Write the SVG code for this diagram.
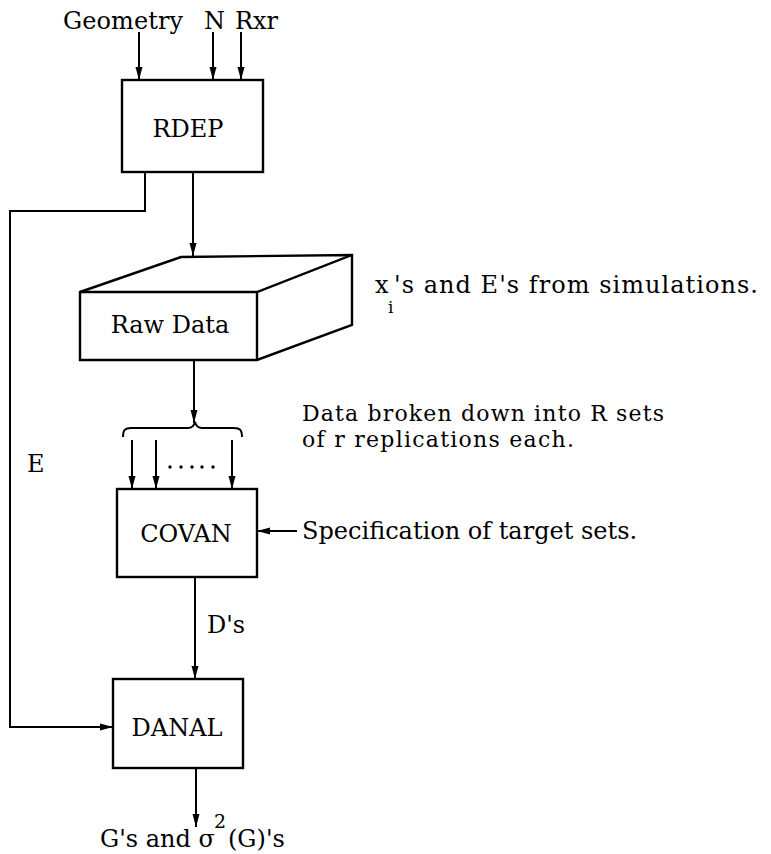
<svg xmlns="http://www.w3.org/2000/svg" width="771" height="854" viewBox="0 0 771 854">
<defs>
<marker id="ah" markerWidth="13" markerHeight="8" refX="13" refY="4" orient="auto" markerUnits="userSpaceOnUse" viewBox="0 0 13 8">
<path d="M0,0.5 L13,4 L0,7.5 Z" fill="#000"/>
</marker>
<style>
.t{font-family:"DejaVu Serif","Liberation Serif",serif;font-size:24px;fill:#000}
.s{font-size:22px}
.b{fill:#fff;stroke:#000;stroke-width:2.4;stroke-linejoin:miter}
.l{fill:none;stroke:#000;stroke-width:2}
.a{fill:none;stroke:#000;stroke-width:2;marker-end:url(#ah)}
</style>
</defs>
<rect width="771" height="854" fill="#fff"/>
<g id="connectors">
<line class="a" x1="139" y1="32" x2="139" y2="80"/>
<line class="a" x1="213" y1="32" x2="213" y2="80"/>
<line class="a" x1="241" y1="32" x2="241" y2="80"/>
<line class="a" x1="193" y1="172" x2="193" y2="256"/>
<polyline class="a" points="145,172 145,211 10,211 10,727 113,727"/>
<line class="a" x1="194" y1="360" x2="194" y2="423"/>
<path class="l" d="M123,437 C123,430 125,428 131,428 L188,428 C192,428 194,426 195,422 C196,426 198,428 202,428 L234,428 C240,428 242,430 242,437"/>
<line class="a" x1="132" y1="440" x2="132" y2="489"/>
<line class="a" x1="156" y1="440" x2="156" y2="489"/>
<line class="a" x1="232" y1="440" x2="232" y2="489"/>
<line class="a" x1="297" y1="531" x2="257" y2="531"/>
<line class="a" x1="195" y1="577" x2="195" y2="679"/>
<line class="a" x1="196" y1="768" x2="196" y2="827"/>
<g fill="#000">
<circle cx="170" cy="467" r="1.7"/><circle cx="181" cy="467" r="1.7"/><circle cx="192" cy="467" r="1.7"/><circle cx="202" cy="467" r="1.7"/><circle cx="213" cy="467" r="1.7"/>
</g>
</g>
<g id="inputs">
<text class="t" x="63" y="29" textLength="120">Geometry</text>
<text class="t" x="204" y="29">N</text>
<text class="t" x="235" y="29">Rxr</text>
</g>
<g id="rdep">
<rect class="b" x="122" y="80" width="141" height="92"/>
<text class="t" x="188" y="137" text-anchor="middle">RDEP</text>
</g>
<g id="rawdata">
<path class="b" d="M80,292 L181,257 L352,255 L352,325 L257,360 L80,360 Z"/>
<path class="l" style="stroke-width:2.4" d="M80,292 L257,292 L352,255 M257,292 L257,360"/>
<text class="t" x="170" y="333" text-anchor="middle">Raw Data</text>
</g>
<g id="note-raw">
<text class="t" x="375" y="293">x</text>
<text class="t" x="388" y="313" style="font-size:17px">i</text>
<text class="t" x="394" y="293" textLength="364">'s and E's from simulations.</text>
</g>
<g id="note-sets">
<text class="t s" x="302" y="421" textLength="362">Data broken down into R sets</text>
<text class="t s" x="302" y="447" textLength="272">of r replications each.</text>
</g>
<g id="covan">
<rect class="b" x="117" y="489" width="140" height="88"/>
<text class="t" x="186" y="542" text-anchor="middle">COVAN</text>
</g>
<g id="spec">
<text class="t" x="302" y="539">Specification of target sets.</text>
</g>
<text class="t" x="27" y="472">E</text>
<text class="t" x="207" y="633">D's</text>
<g id="danal">
<rect class="b" x="113" y="679" width="130" height="89"/>
<text class="t" x="177" y="736" text-anchor="middle">DANAL</text>
</g>
<g id="output">
<text class="t" x="100" y="847">G's and σ</text>
<text class="t" x="214" y="828" style="font-size:19px">2</text>
<text class="t" x="228" y="847">(G)'s</text>
</g>
</svg>
